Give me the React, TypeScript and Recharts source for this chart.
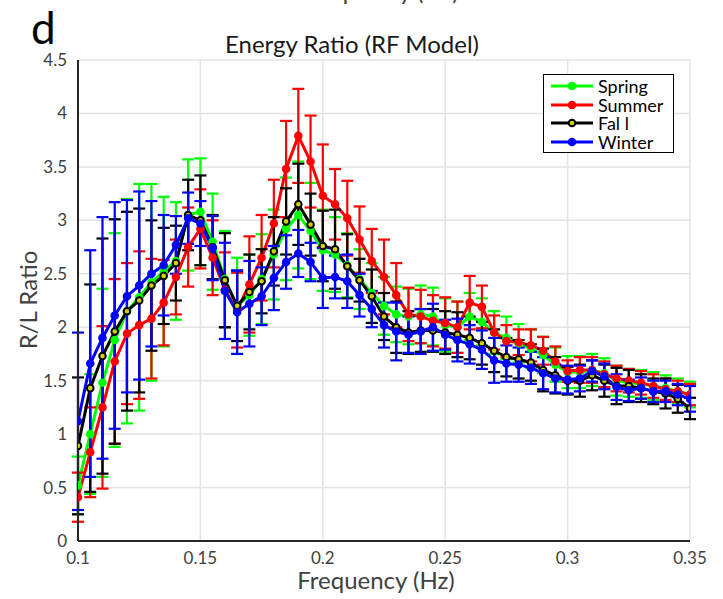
import { LineChart, Line, XAxis, YAxis, CartesianGrid, ErrorBar, Legend } from "recharts";

const freq = [
  0.1, 0.105, 0.11, 0.115, 0.12, 0.125, 0.13, 0.135, 0.14, 0.145,
  0.15, 0.155, 0.16, 0.165, 0.17, 0.175, 0.18, 0.185, 0.19, 0.195,
  0.2, 0.205, 0.21, 0.215, 0.22, 0.225, 0.23, 0.235, 0.24, 0.245,
  0.25, 0.255, 0.26, 0.265, 0.27, 0.275, 0.28, 0.285, 0.29, 0.295,
  0.3, 0.305, 0.31, 0.315, 0.32, 0.325, 0.33, 0.335, 0.34, 0.345, 0.35,
];

const spring = [
  0.52, 1.0, 1.48, 1.88, 2.15, 2.28, 2.42, 2.52, 2.62, 3.05,
  3.08, 2.8, 2.45, 2.2, 2.3, 2.45, 2.68, 2.92, 3.05, 2.9,
  2.72, 2.68, 2.58, 2.45, 2.32, 2.2, 2.12, 2.1, 2.12, 2.1,
  2.02, 2.0, 2.1, 2.05, 1.95, 1.9, 1.85, 1.8, 1.74, 1.65,
  1.58, 1.58, 1.6, 1.57, 1.5, 1.48, 1.47, 1.45, 1.43, 1.4, 1.37,
];
const springErr = [
  0.27, 0.56, 0.88, 1.0, 1.05, 1.06, 0.92, 0.7, 0.55, 0.52,
  0.5, 0.45, 0.45, 0.45, 0.38, 0.42, 0.42, 0.48, 0.5, 0.45,
  0.38, 0.35, 0.3, 0.28, 0.28, 0.27, 0.26, 0.26, 0.27, 0.27,
  0.25, 0.24, 0.22, 0.22, 0.2, 0.2, 0.18, 0.18, 0.17, 0.16,
  0.15, 0.15, 0.15, 0.14, 0.14, 0.13, 0.13, 0.13, 0.12, 0.12, 0.12,
];

const summer = [
  0.41, 0.83, 1.25, 1.68, 1.94, 2.02, 2.08, 2.23, 2.47, 2.75,
  2.92, 2.65, 2.35, 2.16, 2.4, 2.65, 2.97, 3.48, 3.79, 3.55,
  3.23, 3.15, 3.02, 2.82, 2.62, 2.47, 2.3, 2.12, 2.1, 2.06,
  2.04, 2.0, 2.23, 2.19, 1.95, 1.87, 1.86, 1.83, 1.78, 1.68,
  1.59, 1.6, 1.6, 1.56, 1.52, 1.5, 1.48, 1.45, 1.42, 1.4, 1.37,
];
const summerErr = [
  0.23, 0.42, 0.76, 0.77, 0.66, 0.69, 0.56, 0.4, 0.35, 0.37,
  0.37, 0.35, 0.35, 0.35, 0.45, 0.4, 0.41, 0.45, 0.44, 0.43,
  0.48, 0.33, 0.35, 0.31, 0.3, 0.35, 0.3, 0.25, 0.25, 0.24,
  0.24, 0.24, 0.25, 0.2, 0.16, 0.15, 0.12, 0.15, 0.13, 0.14,
  0.1, 0.12, 0.12, 0.12, 0.12, 0.11, 0.11, 0.11, 0.1, 0.1, 0.1,
];

const fall = [
  0.89, 1.43, 1.73, 1.96, 2.15, 2.25, 2.39, 2.48, 2.6, 3.05,
  3.0, 2.75, 2.44, 2.2, 2.33, 2.43, 2.71, 2.99, 3.15, 2.96,
  2.76, 2.73, 2.57, 2.44, 2.29, 2.1, 2.0, 1.95, 1.97, 1.97,
  1.95, 1.93, 1.9, 1.85, 1.78, 1.72, 1.7, 1.67, 1.6, 1.55,
  1.5, 1.5, 1.55, 1.5, 1.45, 1.45, 1.43, 1.4, 1.38, 1.33, 1.24,
];
const fallErr = [
  0.64, 0.97, 1.1, 1.05, 0.93, 0.86, 0.61, 0.45, 0.35, 0.33,
  0.42, 0.3, 0.44, 0.33, 0.35, 0.3, 0.32, 0.31, 0.38, 0.29,
  0.33, 0.37, 0.3, 0.2, 0.25, 0.22, 0.24, 0.2, 0.2, 0.2,
  0.2, 0.21, 0.2, 0.2, 0.2, 0.18, 0.18, 0.17, 0.2, 0.17,
  0.13, 0.15, 0.14, 0.15, 0.17, 0.15, 0.13, 0.12, 0.14, 0.13, 0.1,
];

const winter = [
  1.12, 1.66, 1.9, 2.11, 2.29, 2.39, 2.5, 2.58, 2.77, 3.02,
  2.97, 2.74, 2.34, 2.14, 2.22, 2.29, 2.46, 2.61, 2.69, 2.61,
  2.46, 2.47, 2.43, 2.3, 2.17, 2.02, 1.96, 1.93, 1.96, 2.0,
  1.93, 1.88, 1.84, 1.79, 1.69, 1.66, 1.65, 1.62, 1.57, 1.52,
  1.51, 1.52, 1.59, 1.54, 1.44, 1.41, 1.43, 1.4, 1.4, 1.37, 1.33,
];
const winterErr = [
  0.83, 1.06, 1.13, 1.06, 0.9, 0.88, 0.68, 0.47, 0.27, 0.24,
  0.21, 0.3, 0.45, 0.39, 0.4, 0.27, 0.3, 0.25, 0.22, 0.18,
  0.28, 0.2, 0.25, 0.2, 0.17, 0.21, 0.27, 0.17, 0.21, 0.22,
  0.14, 0.2, 0.18, 0.18, 0.21, 0.17, 0.16, 0.15, 0.15, 0.13,
  0.13, 0.12, 0.1, 0.12, 0.12, 0.1, 0.1, 0.1, 0.1, 0.1, 0.12,
];

const xTicks = [0.1, 0.15, 0.2, 0.25, 0.3, 0.35];
const yTicks = [0, 0.5, 1, 1.5, 2, 2.5, 3, 3.5, 4, 4.5];

const series = [
  { key: "spring", name: "Spring", color: "#00ff00", dotFill: "#00ff00" },
  { key: "summer", name: "Summer", color: "#ff0000", dotFill: "#ff0000" },
  { key: "fall", name: "Fal l", color: "#000000", dotFill: "#d0d000" },
  { key: "winter", name: "Winter", color: "#0000ff", dotFill: "#0000ff" },
];

const data = freq.map((f, i) => ({
  f,
  spring: spring[i], springErr: springErr[i],
  summer: summer[i], summerErr: summerErr[i],
  fall: fall[i], fallErr: fallErr[i],
  winter: winter[i], winterErr: winterErr[i],
}));

const FONT = "Lato, 'Open Sans', sans-serif";
const AXIS = "#262626";
const TXT = "#404040";
const noLabel = () => <g />;

function LegendBox() {
  return (
    <div style={{ border: "1.5px solid #000", background: "#fff", padding: "2px 0 1px 6px", width: 131, height: 79, boxSizing: "border-box", fontFamily: FONT }}>
      {series.map((s) => (
        <div key={s.key} style={{ display: "flex", alignItems: "center", height: 18.5 }}>
          <svg width={44} height={12} style={{ marginRight: 4, flexShrink: 0 }}>
            <line x1={1} y1={6} x2={43} y2={6} stroke={s.color} strokeWidth={3} />
            <circle cx={22} cy={6} r={3.3} fill={s.dotFill} stroke={s.color} strokeWidth={2} />
          </svg>
          <span style={{ fontSize: 18, color: "#000", lineHeight: "18px" }}>{s.name}</span>
        </div>
      ))}
    </div>
  );
}

export default function App() {
  return (
    <div style={{ position: "absolute", left: 0, top: 0, width: 723, height: 599, background: "#fff" }}>
      <LineChart width={723} height={599} data={data} margin={{ top: 60, right: 33, bottom: 28, left: 38 }}>
        <CartesianGrid xAxisId="main" yAxisId="main" stroke="#e3e3e3" strokeWidth={1.5} horizontalValues={yTicks} verticalValues={xTicks} />
        <XAxis xAxisId="main" dataKey="f" type="number" domain={[0.1, 0.35]} ticks={xTicks} allowDataOverflow
          height={30} tickLine={false} tickSize={6} tickMargin={5}
          axisLine={{ stroke: AXIS, strokeWidth: 2 }}
          tick={{ fontSize: 17, fill: TXT, fontFamily: FONT }} />
        <XAxis xAxisId="binner" dataKey="f" type="number" domain={[0.1, 0.35]} ticks={xTicks} allowDataOverflow
          height={0} mirror tick={noLabel} axisLine={false} tickSize={6} tickLine={{ stroke: AXIS, strokeWidth: 2 }} />
        <XAxis xAxisId="top" orientation="top" dataKey="f" type="number" domain={[0.1, 0.35]} ticks={xTicks} allowDataOverflow
          height={0} mirror tick={noLabel} tickSize={6} tickLine={{ stroke: AXIS, strokeWidth: 2 }}
          axisLine={{ stroke: AXIS, strokeWidth: 2 }} />
        <YAxis yAxisId="main" type="number" domain={[0, 4.5]} ticks={yTicks} allowDataOverflow
          width={40} tickLine={false} tickSize={6} tickMargin={5}
          axisLine={{ stroke: AXIS, strokeWidth: 2 }}
          tick={{ fontSize: 17, fill: TXT, fontFamily: FONT }} />
        <YAxis yAxisId="linner" type="number" domain={[0, 4.5]} ticks={yTicks} allowDataOverflow
          width={0} mirror tick={noLabel} axisLine={false} tickSize={6} tickLine={{ stroke: AXIS, strokeWidth: 2 }} />
        <YAxis yAxisId="right" orientation="right" type="number" domain={[0, 4.5]} ticks={yTicks} allowDataOverflow
          width={0} mirror tick={noLabel} tickSize={6} tickLine={{ stroke: AXIS, strokeWidth: 2 }}
          axisLine={{ stroke: AXIS, strokeWidth: 2 }} />
        {series.map((s) => (
          <Line key={s.key} xAxisId="main" yAxisId="main" dataKey={s.key} name={s.name}
            stroke={s.color} strokeWidth={3} isAnimationActive={false}
            dot={{ r: 3.3, fill: s.dotFill, stroke: s.color, strokeWidth: 2 }}>
            <ErrorBar dataKey={`${s.key}Err`} direction="y" width={6} stroke={s.color} strokeWidth={2.2} isAnimationActive={false} />
          </Line>
        ))}
        <Legend layout="horizontal" verticalAlign="middle" align="center"
          wrapperStyle={{ position: "absolute", top: 74, left: 543, width: 131 }}
          content={() => <LegendBox />} />
        <text x={31} y={44} fontSize={44} fontFamily={FONT} fill="#000">d</text>
        <text x={352} y={53} textAnchor="middle" fontSize={24} fontFamily={FONT} fill="#1a1a1a">Energy Ratio (RF Model)</text>
        <text x={380} y={0} textAnchor="middle" fontSize={24} fontFamily={FONT} fill={TXT}>Frequency (Hz)</text>
        <text x={376} y={589} textAnchor="middle" fontSize={24} fontFamily={FONT} fill={TXT}>Frequency (Hz)</text>
        <text x={0} y={0} transform="translate(37,300) rotate(-90)" textAnchor="middle" fontSize={24} fontFamily={FONT} fill={TXT}>R/L Ratio</text>
      </LineChart>
    </div>
  );
}
